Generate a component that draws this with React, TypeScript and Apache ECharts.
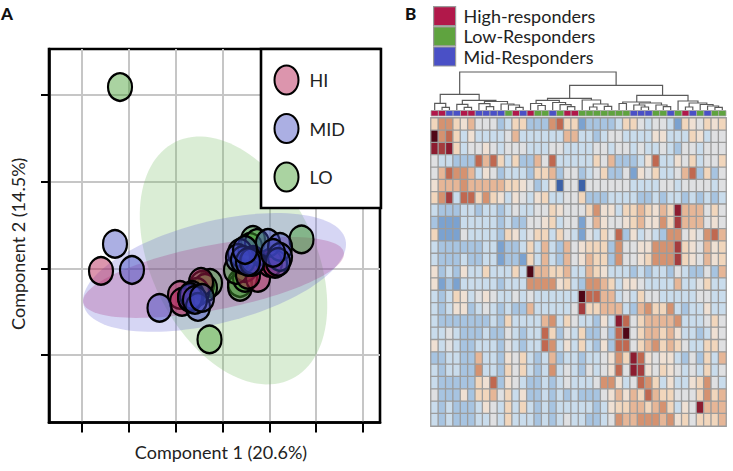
import React, { useEffect, useRef } from "react";
import * as echarts from "echarts";

// ---------- Panel A data ----------
const hiPoints = [[-25.96,-0.31],[-4.59,-1.58],[-9.08,-3.08],[-8.65,-3.89],[7.59,-1.12],[10.15,0.61],[11.22,0.5],[-6.94,-3.43],[5.45,-0.77]];
const midPoints = [[-22.97,2.81],[-19.34,-0.2],[-13.46,-4.58],[-6.52,-3.08],[-6.94,-3.31],[-5.24,-4.47],[-5.88,-3.66],[-4.38,-3.43],[3.74,1.77],[3.31,1.19],[4.38,0.96],[6.52,0.96],[6.3,0.73],[5.45,0.73],[9.72,2.92],[12.29,2.46],[12.29,1.3],[11.86,0.73],[10.79,1.77],[4.81,2.11]];
const loPoints = [[-21.9,20.93],[16.88,3.33],[-2.78,-8.22],[3.74,-1.7],[3.74,-2.16],[4.81,-1.12],[6.52,3.27],[5.88,2.46],[7.37,2.92],[-2.67,-1.7],[-4.38,-1.93],[-3.74,-2.27],[-5.45,-2.74],[4.81,0.03],[2.88,-0.2]];
// centre x, centre y, major axis vector x/y, minor axis vector x/y
const loEllipse = [2.35,0.9,12.37,-13.7,15.75,4.15];
const midEllipse = [-1.71,-0.48,27.97,3.8,-2.65,5.71];
const hiEllipse = [-1.92,-1.06,27.84,2.89,-1.3,3.67];
const xTicks = [-30,-20,-10,0,10,20,30];
const yTicks = [-10,0,10,20];

// ---------- Panel B data ----------
const levels = "ABCDEFGHIJKLM";
const heatRows = [
  "GIIGFHEEECDGGCCCIJGGBCCCCDGGEDEEDBGFEGFG",
  "MIJGDFDDDDEHDDDDDDHHDDCDEEDDDDFFDDDGFDEE",
  "LKLGDEEFEDEEEDDDEEDDDDEEDEEDEDDEDCEEDEEE",
  "EDDCCCJHJGDGCCHEJDDDDDGEHCCCDFJDDFEGDEEG",
  "EHJIIHDFECDDDCGGHCEECDEGCCEBFEGDDEHJCGCE",
  "FHHHIHHHHHGGFECDFAEEAEEEEEEDDDDEEDEEEEDE",
  "GIKDJJGIGFDFEDFGDDEEGCCCDDDDCCDCDDCDCDCD",
  "DCCCDDCDDCDEDDEEGFEEEGIFFDGGHGFHGLHHHEGE",
  "CBBBDDDDDCDCCEEFGDEEBEHFEEFGHFFIGKHHHEFE",
  "GBBBEDDDDCGFDEGGDGEDBEDGEJCFDEDCIIEFEIJH",
  "DCCCCCCDDBCCDGDHDCHEFGGGCIEEFFIIIKGFEHFG",
  "DCCCDCCDDBCCBGDHDCHEFHGGCIEEFGIIIKGFEHFG",
  "FCDCFDDGDDDGDMHHGGHDDHGFDDDCDCDDCEDCCECH",
  "FBCBDDDDDCDDDIIIIFGDCIIHGDFFEDDDDHDDEGDD",
  "DCDGFDEFEDDEDEDDDDDDMJJHHDEDGEEDDDDDEEDD",
  "DCDFFCDEDCDCCHDDDDDEKGGHHHDCHIGGIDCDDFDD",
  "DCCCCCCCDCGDDDDHIDGEDDCFDLJEGHHHHIDDDEGE",
  "DDEDCCCDCCEDCDDJGCEDGCCECJMEGHHGHFDDCDFE",
  "FDEDCCDDDCEDCDDJIDFDGDCFCJJEGHIGHGEDDGGE",
  "CCDDCCHDDCFEGDCDHCDDCDDEFIGLJFEFFDCECGDH",
  "DCDDCCIDDCGEGDCDIDEDCEDEFJELKFEGFEDEDGDE",
  "DCCCCCGFJCFEDCCDCDEDDDEIIFDEJIGDFDDFGIED",
  "ECCCFCGGHEGDFCCDCDCDCCCEFHFHGJHGGEEEGIGH",
  "DCDCCCDFEDGDGDCDCDDDDDCDFGGHHGHIGDFELHHH",
  "DCDCCCDDEDGDDDCDCDEDDCCDEIHHIIIHIFGEGGGH",
];
const heatColors = ["#3d62a8","#7ba2d0","#a7c4e1","#c9dcec","#dfe0e2","#efe0d3","#f1d6bc","#e6b697","#d59270","#c06850","#a43c3e","#8c1c30","#4f0716"];
const groupStrip = "HHMMHHMMMMLHMHLLMLHHLLLLLLLMMMLLMLHMLMLL";
const groupNames: Record<string,string> = { H: "High-responders", L: "Low-Responders", M: "Mid-Responders" };
const groupColors: Record<string,string> = { H: "#b1184a", L: "#5fa33f", M: "#4a50c6" };
// left x, left height, right x, right height, top height
const dendroLinks = [
  [1,0,2,0,2.7],[0,0,1.5,2.7,6.7],[4,0,5,0,2.7],[3,0,4.5,2.7,5.7],[7,0,8,0,3.3],[6,0,7.5,3.3,6.3],
  [11,0,12,0,2.7],[10,0,11.5,2.7,5],[9,0,10.75,5,6],[6.75,6.3,9.87,6,8.5],[3.75,5.7,8.3,8.5,9.7],[0.75,6.7,6.03,9.7,15.7],
  [14,0,15,0,4.5],[13,0,14.5,4.5,6.5],[18,0,19,0,3.3],[17,0,18.5,3.3,5.3],[16,0,17.75,5.3,7.5],[13.75,6.5,16.9,7.5,9.7],
  [21,0,22,0,3],[23,0,24,0,3.7],[21.5,3,23.5,3.7,6],[20,0,22.5,6,10],[15.3,9.7,21.25,10,11.7],
  [25,0,26,0,6.5],[28,0,29,0,3],[27,0,28.5,3,5],[31,0,32,0,3.3],[30,0,31.5,3.3,5],[27.75,5,30.75,5,7],[25.5,6.5,29.25,7,8],
  [34,0,35,0,3],[38,0,39,0,2.7],[37,0,38.5,2.7,4],[36,0,37.75,4,5.5],[34.5,3,36.9,5.5,7],[33,0,35.7,7,9],
  [27.4,8,34.35,9,14.7],[18.3,11.7,30.9,14.7,24.7],[3.39,15.7,24.6,24.7,38],
];

const FONT = "Lato";
const ellipseIcon = "path://M2,1A1,1,0,1,1,0,1A1,1,0,1,1,2,1Z";

function ellipseSeries(name: string, params: number[], fill: string) {
  return {
    type: "custom", name, xAxisIndex: 0, yAxisIndex: 0, z: 1, silent: true,
    data: [params],
    renderItem: (_: any, api: any) => {
      const [cx, cy, ux, uy, vx, vy] = [0,1,2,3,4,5].map((i) => api.value(i));
      const points: number[][] = [];
      for (let k = 0; k < 120; k++) {
        const t = (k / 120) * 2 * Math.PI;
        points.push(api.coord([cx + Math.cos(t) * ux + Math.sin(t) * vx, cy + Math.cos(t) * uy + Math.sin(t) * vy]));
      }
      return { type: "polygon", shape: { points }, style: { fill } };
    },
  };
}

function pointSeries(name: string, data: number[][], fill: string) {
  return {
    type: "scatter", name, data, xAxisIndex: 0, yAxisIndex: 0, z: 3,
    symbol: "circle", symbolSize: [24, 27.5],
    itemStyle: { color: fill, borderColor: "#000", borderWidth: 2.3, opacity: 1 },
  };
}

function stripSeries(key: string) {
  const data: number[][] = [];
  groupStrip.split("").forEach((g, i) => { if (g === key) data.push([i, 0]); });
  return {
    type: "custom", name: groupNames[key], xAxisIndex: 2, yAxisIndex: 2, silent: true, data,
    itemStyle: { color: groupColors[key] },
    renderItem: (_: any, api: any) => {
      const p = api.coord([api.value(0) - 0.5, 1]);
      const q = api.coord([api.value(0) + 0.5, 0]);
      return {
        type: "rect",
        shape: { x: p[0], y: p[1], width: q[0] - p[0], height: q[1] - p[1] },
        style: { fill: groupColors[key], stroke: "#a8a8a8", lineWidth: 0.8 },
      };
    },
  };
}

export default function App() {
  const ref = useRef<HTMLDivElement>(null);
  useEffect(() => {
    const chart = echarts.init(ref.current!, null, { renderer: "svg" });
    const heatData: number[][] = [];
    heatRows.forEach((row, r) => row.split("").forEach((c, i) => heatData.push([i, r, levels.indexOf(c)])));
    const hiddenValue = { type: "value", show: false };
    const option: any = {
      animation: false,
      backgroundColor: "#fff",
      textStyle: { fontFamily: FONT },
      grid: [
        { left: 49, top: 49, width: 331, height: 373.5, show: true, borderColor: "#000", borderWidth: 2.6, backgroundColor: "#fff", z: 0 },
        { left: 431, top: 118, width: 295, height: 308 },
        { left: 431, top: 110.5, width: 295, height: 5.5 },
        { left: 431, top: 70, width: 295, height: 40 },
      ],
      xAxis: [
        {
          type: "value", gridIndex: 0, min: -37.07, max: 33.65,
          name: "Component 1 (20.6%)", nameLocation: "middle", nameGap: 20,
          nameTextStyle: { fontFamily: FONT, fontSize: 18, color: "#222", padding: [0, 0, 0, 13] },
          axisLine: { show: true, onZero: false, lineStyle: { color: "#000", width: 2.6 } },
          axisTick: { show: true, length: 10, customValues: xTicks, lineStyle: { color: "#000", width: 2 } },
          axisLabel: { show: false },
          splitLine: { show: true, lineStyle: { color: "#c6c6c6", width: 2 } },
        },
        { type: "category", gridIndex: 1, show: false, data: Array.from({ length: 40 }, (_, i) => String(i)) },
        { ...hiddenValue, gridIndex: 2, min: -0.5, max: 39.5 },
        { ...hiddenValue, gridIndex: 3, min: -0.5, max: 39.5 },
      ],
      yAxis: [
        {
          type: "value", gridIndex: 0, min: -17.81, max: 25.32,
          name: "Component 2 (14.5%)", nameLocation: "middle", nameGap: 22, nameRotate: 90,
          nameTextStyle: { fontFamily: FONT, fontSize: 18, color: "#222", padding: [0, 16, 0, 0] },
          axisLine: { show: true, onZero: false, lineStyle: { color: "#000", width: 2.6 } },
          axisTick: { show: true, length: 8, customValues: yTicks, lineStyle: { color: "#000", width: 2 } },
          axisLabel: { show: false },
          splitLine: { show: true, lineStyle: { color: "#c6c6c6", width: 2 } },
        },
        { type: "category", gridIndex: 1, show: false, inverse: true, data: heatRows.map((_, i) => String(i)) },
        { ...hiddenValue, gridIndex: 2, min: 0, max: 1 },
        { ...hiddenValue, gridIndex: 3, min: 0, max: 40 },
      ],
      legend: [
        {
          left: 261, top: 49, orient: "vertical", selectedMode: false,
          data: ["HI", "MID", "LO"].map((name) => ({ name, icon: ellipseIcon })),
          symbolKeepAspect: false,
          itemWidth: 24, itemHeight: 29, itemGap: 17.5,
          padding: [15.5, 36, 15.5, 12.5],
          backgroundColor: "#fff", borderColor: "#000", borderWidth: 2.6,
          textStyle: { fontFamily: FONT, fontSize: 18, color: "#222", padding: [0, 0, 0, 6] },
        },
        {
          left: 433, top: 6, orient: "vertical", selectedMode: false,
          data: ["High-responders", "Low-Responders", "Mid-Responders"],
          icon: "rect", symbolKeepAspect: false,
          itemWidth: 22, itemHeight: 19, itemGap: 0, padding: 0,
          itemStyle: { borderColor: "#9a9a9a", borderWidth: 1.2 },
          textStyle: { fontFamily: FONT, fontSize: 18, lineHeight: 19, color: "#222", padding: [0, 0, 0, 3] },
        },
      ],
      visualMap: { show: false, type: "continuous", seriesIndex: 6, dimension: 2, min: 0, max: 12, inRange: { color: heatColors } },
      graphic: [
        { type: "text", left: 1, top: 5, style: { text: "A", fontFamily: FONT, fontWeight: 900, fontSize: 17, fill: "#111" } },
        { type: "text", left: 405, top: 5, style: { text: "B", fontFamily: FONT, fontWeight: 900, fontSize: 17, fill: "#111" } },
      ],
      series: [
        ellipseSeries("LO region", loEllipse, "rgba(120,190,100,0.27)"),
        ellipseSeries("MID region", midEllipse, "rgba(90,90,210,0.25)"),
        ellipseSeries("HI region", hiEllipse, "rgba(165,40,125,0.25)"),
        pointSeries("LO", loPoints, "rgba(70,160,50,0.46)"),
        pointSeries("HI", hiPoints, "rgba(180,30,80,0.47)"),
        pointSeries("MID", midPoints, "rgba(60,70,190,0.43)"),
        {
          type: "heatmap", name: "expression", xAxisIndex: 1, yAxisIndex: 1, data: heatData,
          itemStyle: { borderColor: "#9c9c9c", borderWidth: 1.3 },
          progressive: 0, silent: true,
        },
        stripSeries("H"),
        stripSeries("L"),
        stripSeries("M"),
        {
          type: "custom", name: "dendrogram", xAxisIndex: 3, yAxisIndex: 3, silent: true, data: dendroLinks,
          renderItem: (_: any, api: any) => {
            const [a, h1, b, h2, top] = [0,1,2,3,4].map((i) => api.value(i));
            return {
              type: "polyline",
              shape: { points: [api.coord([a, h1]), api.coord([a, top]), api.coord([b, top]), api.coord([b, h2])] },
              style: { fill: "none", stroke: "#5a5a5a", lineWidth: 1.2 },
            };
          },
        },
      ],
    };
    chart.setOption(option);
    return () => chart.dispose();
  }, []);
  return <div ref={ref} style={{ position: "absolute", left: 0, top: 0, width: 733, height: 471 }} />;
}
